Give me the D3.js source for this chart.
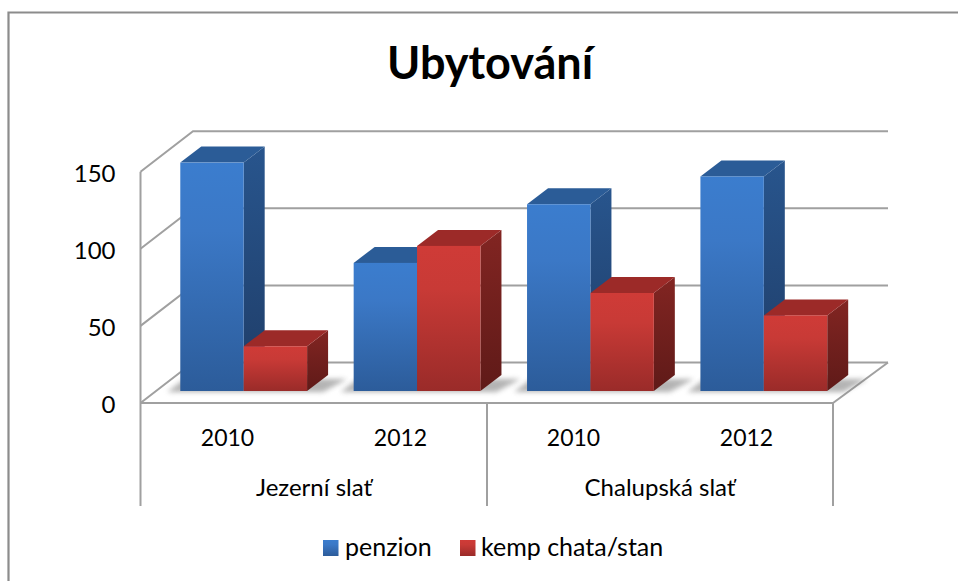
<!DOCTYPE html>
<html><head><meta charset="utf-8">
<script src="https://cdn.jsdelivr.net/npm/d3@7/dist/d3.min.js"></script>
<style>html,body{margin:0;padding:0;background:#fff}svg{display:block}text{font-family:Lato,"Open Sans",sans-serif;fill:#000}</style>
</head><body><svg id="c" width="958" height="581"></svg>
<script>
const groups = ["Jezerní slať", "Chalupská slať"];
const years = ["2010", "2012", "2010", "2012"];
const seriesNames = ["penzion", "kemp chata/stan"];
const penzion = [148, 83, 121, 139];
const kemp = [29, 94, 63.5, 49];
const yTicks = [0, 50, 100, 150];

const svg = d3.select("#c");
const defs = svg.append("defs");
function grad(id, stops, x2=0, y2=1){
  const g = defs.append("linearGradient").attr("id",id).attr("x1",0).attr("y1",0).attr("x2",x2).attr("y2",y2);
  stops.forEach(([o,c,a])=>g.append("stop").attr("offset",o).attr("stop-color",c).attr("stop-opacity",a==null?1:a));
}
grad("bf",[[0,"#3b7dce"],[.3,"#3b78c6"],[1,"#2c5c9a"]]);
grad("bs",[[0,"#28558d"],[1,"#1f3d68"]]);
grad("rf",[[0,"#cf3b37"],[.3,"#c83a36"],[1,"#9a2b29"]]);
grad("rs",[[0,"#822522"],[1,"#5f1a18"]]);
const blur = defs.append("filter").attr("id","sh").attr("x","-20%").attr("y","-100%").attr("width","140%").attr("height","300%");
blur.append("feGaussianBlur").attr("stdDeviation",2.8);

// chart frame
svg.append("path").attr("d","M8.5 581V12.5H958").attr("fill","none").attr("stroke","#8c8c8c").attr("stroke-width",2.2);

const gridCol="#a0a0a0";
const dxW=52.5, dyW=-40.5;           // wall depth
const dxB=21, dyB=-16;               // bar depth
const yFront=d3.scaleLinear().domain([0,150]).range([403,171.7]);
const yBar=d3.scaleLinear().domain([0,150]).range([391,159.5]);
const xFloor=[140.5,833];
const cat=d3.scaleBand().domain(d3.range(4)).range([157,850.5]);
const barW=63.4;

const walls=svg.append("g").attr("fill","none").attr("stroke",gridCol).attr("stroke-width",2);
yTicks.forEach(t=>{
  const y=yFront(t);
  const pts=[[xFloor[0],y],[xFloor[0]+dxW,y+dyW],[888,y+dyW]];
  walls.append("path").attr("d",d3.line()(pts));
});
walls.append("line").attr("x1",xFloor[0]).attr("x2",xFloor[0]).attr("y1",yFront(150)).attr("y2",506);
walls.append("line").attr("x1",xFloor[0]).attr("x2",xFloor[1]).attr("y1",yFront(0)).attr("y2",yFront(0));
walls.append("line").attr("x1",xFloor[1]).attr("x2",888).attr("y1",yFront(0)).attr("y2",yFront(0)+dyW);
[xFloor[0]+346.5,xFloor[1]].forEach(x=>walls.append("line").attr("x1",x).attr("x2",x).attr("y1",yFront(0)).attr("y2",506));

// floor shadows
const shadows=svg.append("g");
d3.range(4).forEach(i=>{
  const x0=cat(i)+cat.bandwidth()/2-barW;
  shadows.append("path")
    .attr("d",d3.line()([[x0-13,yBar(0)+1],[x0+4,yBar(0)-12],[x0+2*barW+40,yBar(0)-12],[x0+2*barW+16,yBar(0)+1]]))
    .attr("fill","#777").attr("opacity",.55).attr("filter","url(#sh)");
});

function drawBar(g,x,val,front,side,top){
  const yt=yBar(val), yb=yBar(0), w=barW;
  g.append("path").attr("d",d3.line()([[x+w,yt],[x+w+dxB,yt+dyB],[x+w+dxB,yb+dyB],[x+w,yb]])).attr("fill",`url(#${side})`);
  g.append("path").attr("d",d3.line()([[x,yt],[x+dxB,yt+dyB],[x+w+dxB,yt+dyB],[x+w,yt]])).attr("fill",top);
  g.append("rect").attr("x",x).attr("y",yt).attr("width",w).attr("height",yb-yt).attr("fill",`url(#${front})`);
}
const bars=svg.append("g");
d3.range(4).forEach(i=>{
  const x0=cat(i)+cat.bandwidth()/2-barW;
  drawBar(bars,x0,penzion[i],"bf","bs","#2b5c97");
  drawBar(bars,x0+barW,kemp[i],"rf","rs","#9c2a28");
});

// y labels
svg.append("g").selectAll("text").data(yTicks).join("text")
  .attr("x",115.5).attr("y",d=>yFront(d)+10).attr("text-anchor","end").attr("font-size",24).text(d=>d);
// year labels
const catLabelX=[227.5,400.5,573.5,746.5];
svg.append("g").selectAll("text").data(years).join("text")
  .attr("x",(d,i)=>catLabelX[i]).attr("y",446).attr("text-anchor","middle").attr("font-size",23).text(d=>d);
// group labels
svg.append("g").selectAll("text").data(groups).join("text")
  .attr("x",(d,i)=>[314,660][i]).attr("y",496).attr("text-anchor","middle").attr("font-size",24).text(d=>d);
// title
svg.append("text").attr("x",490).attr("y",79).attr("text-anchor","middle").attr("font-size",45).attr("font-weight",700).text("Ubytování");
// legend
const lg=svg.append("g");
[[323,"bf",346],[460,"rf",482]].forEach(([x,f,tx],i)=>{
  lg.append("rect").attr("x",x).attr("y",540).attr("width",15.5).attr("height",16).attr("fill",`url(#${f})`);
  lg.append("text").attr("x",tx-1).attr("y",556).attr("font-size",25).text(seriesNames[i]);
});
</script></body></html>
